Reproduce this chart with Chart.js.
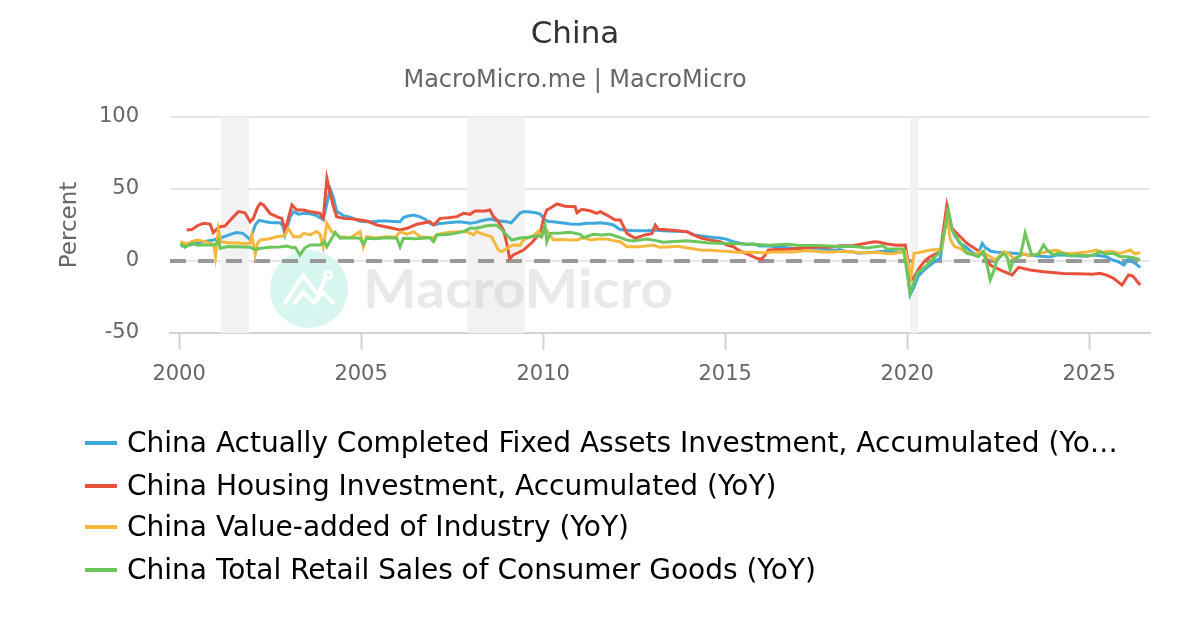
<!DOCTYPE html>
<html>
<head>
<meta charset="utf-8">
<script src="https://cdn.jsdelivr.net/npm/chart.js@4.4.1/dist/chart.umd.min.js"></script>
<style>
  html, body { margin: 0; padding: 0; background: #fff; }
  #wrap { position: relative; width: 1200px; height: 630px; overflow: hidden; font-family: 'DejaVu Sans', sans-serif; }
  #c { position: absolute; left: 0; top: 0; }
  .lg { position: absolute; left: 85px; height: 34px; line-height: 34px; white-space: nowrap; font-size: 28px; color: #000; }
  .lg .sw { position: absolute; left: 0; top: 15px; width: 32px; height: 4px; }
  .lg .tx { position: absolute; left: 42px; top: 0; }
</style>
</head>
<body>
<div id="wrap">
  <canvas id="c" width="1200" height="630"></canvas>
  <div id="legend"></div>
</div>
<script>
// ---------------- DATA ----------------
const seriesNames = [
  "China Actually Completed Fixed Assets Investment, Accumulated (YoY)",
  "China Housing Investment, Accumulated (YoY)",
  "China Value-added of Industry (YoY)",
  "China Total Retail Sales of Consumer Goods (YoY)"
];
const legendTexts = [
  "China Actually Completed Fixed Assets Investment, Accumulated (Yo\u2026",
  "China Housing Investment, Accumulated (YoY)",
  "China Value-added of Industry (YoY)",
  "China Total Retail Sales of Consumer Goods (YoY)"
];
const seriesColors = ["#3fa8dc", "#e8523c", "#f5b83d", "#6cc65c"];

const xTicks = [2000, 2005, 2010, 2015, 2020, 2025];
const yTicks = [-50, 0, 50, 100];

const bandStarts = [2001.15, 2007.92, 2020.08];
const bandEnds = [2001.92, 2009.5, 2020.3];

const faiData = [[2000.04,10.4],[2000.3,11.2],[2000.5,12.5],[2000.67,13.4],[2000.94,14.6],[2001.12,15.8],[2001.3,17.5],[2001.45,18.8],[2001.58,19.7],[2001.75,19.2],[2001.86,16.9],[2001.95,14.8],[2002.1,25.5],[2002.2,28.2],[2002.35,27.4],[2002.5,26.8],[2002.65,26.5],[2002.77,26.6],[2002.85,24.5],[2002.91,18.3],[2003.05,30.5],[2003.14,34.3],[2003.28,32.5],[2003.45,33.2],[2003.6,32.8],[2003.75,31.8],[2003.87,30.1],[2003.96,28.8],[2004.06,40],[2004.15,50],[2004.24,44],[2004.33,34.3],[2004.42,33.1],[2004.51,31.5],[2004.7,30.5],[2004.97,27.6],[2005.15,27.3],[2005.34,27.3],[2005.5,27.8],[2005.7,27.8],[2005.9,27.5],[2006.07,27.3],[2006.16,30.1],[2006.3,31.2],[2006.44,31.9],[2006.6,30.8],[2006.75,29.2],[2006.89,26.2],[2006.99,25],[2007.15,26],[2007.26,26.2],[2007.45,26.8],[2007.72,27.3],[2007.99,26.2],[2008.15,26.8],[2008.27,27.8],[2008.54,29.2],[2008.7,28.3],[2008.81,27.8],[2009.0,27.3],[2009.12,26.5],[2009.25,30],[2009.37,33.5],[2009.5,34.3],[2009.64,34],[2009.8,33.5],[2009.92,32.6],[2010.05,28.5],[2010.15,27.5],[2010.28,27.3],[2010.5,26.5],[2010.74,25.7],[2011.0,25.6],[2011.2,26.2],[2011.4,26.2],[2011.57,26.6],[2011.75,26],[2011.93,25],[2012.1,22],[2012.2,21.5],[2012.4,21.2],[2012.57,21],[2012.85,21],[2013.03,21.5],[2013.3,21],[2013.6,20.6],[2013.95,20.4],[2014.15,18],[2014.35,17.3],[2014.5,16.9],[2014.7,16.3],[2014.86,16],[2015.05,15],[2015.2,13.6],[2015.4,12.3],[2015.6,11.5],[2015.78,11.8],[2015.95,10.5],[2016.15,10.5],[2016.33,10],[2016.5,9.9],[2016.7,9.2],[2016.95,8.5],[2017.15,9.5],[2017.4,8.8],[2017.6,8.8],[2017.8,8],[2017.95,7.3],[2018.15,7.9],[2018.35,6.5],[2018.5,6.5],[2018.65,5.4],[2018.95,5.9],[2019.15,6.3],[2019.4,6.9],[2019.6,6.5],[2019.8,6],[2019.95,6.5],[2020.08,-23.6],[2020.19,-17.9],[2020.3,-10.5],[2020.47,-6.2],[2020.63,-2.8],[2020.8,0.3],[2020.91,1.9],[2021.09,34.3],[2021.2,24],[2021.3,18],[2021.45,12.3],[2021.6,10],[2021.82,5.3],[2021.95,4.9],[2022.06,12.2],[2022.15,9.3],[2022.3,6.8],[2022.47,6.1],[2022.65,5.9],[2022.92,5.3],[2023.05,5.1],[2023.2,4.7],[2023.38,4],[2023.6,3.4],[2023.84,3],[2023.95,3],[2024.1,4.2],[2024.29,4.2],[2024.5,3.6],[2024.7,3.4],[2024.94,3.3],[2025.1,4.1],[2025.3,3.7],[2025.48,2.8],[2025.67,0.5],[2025.8,-0.5],[2025.95,-2.8],[2026.08,1.2],[2026.25,-1.5],[2026.4,-4.4]];

const housingData = [[2000.21,21.5],[2000.35,21.8],[2000.5,24.5],[2000.67,26.2],[2000.85,25.6],[2000.94,19.7],[2001.05,22.5],[2001.13,23.8],[2001.26,24.3],[2001.45,29.6],[2001.63,34.3],[2001.81,33.5],[2001.95,27.3],[2002.04,29.6],[2002.15,37],[2002.23,40],[2002.32,38.9],[2002.5,33],[2002.68,30.8],[2002.82,29.6],[2002.91,21.5],[2003.1,38.9],[2003.23,35.4],[2003.42,35.4],[2003.6,34.3],[2003.78,33.5],[2003.87,33.1],[2003.96,29.6],[2004.06,57.4],[2004.15,47],[2004.24,37.7],[2004.33,30.8],[2004.51,29.6],[2004.79,29.2],[2005.15,27.8],[2005.43,25],[2005.8,23.1],[2006.07,21.5],[2006.26,22.7],[2006.53,25.5],[2006.89,27.3],[2006.99,25],[2007.17,29.6],[2007.4,30],[2007.63,30.8],[2007.81,33.1],[2007.99,32.4],[2008.13,34.7],[2008.41,34.7],[2008.54,35.4],[2008.63,31],[2008.77,27.3],[2008.91,21.5],[2009.0,12.3],[2009.08,1.5],[2009.18,4.2],[2009.46,7.6],[2009.7,13],[2009.83,16.9],[2009.92,19.2],[2010.01,29.6],[2010.1,35.4],[2010.19,36.6],[2010.38,39.6],[2010.6,38],[2010.88,37.7],[2010.93,33.5],[2011.06,35.9],[2011.29,34.9],[2011.47,33.1],[2011.57,34.3],[2011.75,31.9],[2011.98,28.5],[2012.12,28.5],[2012.3,19.2],[2012.53,15.8],[2012.8,18.1],[2012.99,19.2],[2013.08,25],[2013.17,22],[2013.49,21.5],[2013.95,20.4],[2014.13,18.1],[2014.36,15.8],[2014.6,14.5],[2014.86,13.4],[2015.05,11],[2015.23,9.9],[2015.4,7],[2015.6,4.9],[2015.87,1.9],[2016.0,1.2],[2016.1,4.2],[2016.19,7.6],[2016.45,8],[2016.7,8.1],[2017.15,8.8],[2017.61,9.9],[2017.9,9.5],[2018.16,10.6],[2018.5,10.6],[2018.98,12.8],[2019.1,13.4],[2019.25,13],[2019.44,11.8],[2019.7,11],[2019.95,11.1],[2020.1,-13.2],[2020.19,-10.9],[2020.36,-3.9],[2020.5,0.5],[2020.63,3],[2020.91,6.5],[2021.09,38.9],[2021.23,22.7],[2021.41,18.1],[2021.64,12.3],[2021.92,7.6],[2022.05,6],[2022.17,1.9],[2022.28,-2.8],[2022.55,-6.2],[2022.88,-9.7],[2023.06,-4.4],[2023.38,-6.2],[2023.75,-7.4],[2024.29,-8.6],[2024.94,-9],[2025.1,-9.2],[2025.3,-8.6],[2025.5,-10],[2025.67,-12],[2025.9,-16.7],[2026.08,-9.7],[2026.2,-10.5],[2026.4,-16.7]];

const industryData = [[2000.04,13.4],[2000.2,11.8],[2000.35,13.5],[2000.49,14.6],[2000.7,13.5],[2000.85,12.3],[2000.95,11.5],[2001.0,3],[2001.08,22],[2001.15,13.4],[2001.4,12.5],[2001.58,12.7],[2001.8,12],[2001.95,12.3],[2002.0,18],[2002.09,4.2],[2002.15,12],[2002.23,14.6],[2002.5,15.5],[2002.68,16.9],[2002.9,17.5],[2003.0,22.7],[2003.14,16.9],[2003.32,16.9],[2003.42,19.2],[2003.6,18.1],[2003.78,20.4],[2003.87,18.5],[2003.96,9.9],[2004.06,26.2],[2004.19,20.4],[2004.42,16.9],[2004.7,16.2],[2004.97,20.4],[2005.06,9.9],[2005.15,16.9],[2005.4,16],[2005.7,16.9],[2005.95,16.5],[2006.07,20.4],[2006.26,18.5],[2006.44,20.4],[2006.62,16.9],[2006.99,15.8],[2007.08,18.5],[2007.44,19.9],[2007.9,20.4],[2008.09,18.1],[2008.17,20.4],[2008.36,18.5],[2008.58,16.9],[2008.77,7.6],[2008.87,6.5],[2009.0,8.8],[2009.18,11.1],[2009.37,11],[2009.46,14.6],[2009.73,17.5],[2009.87,20.8],[2009.96,16.9],[2010.05,22.7],[2010.19,18.1],[2010.28,14.6],[2010.5,15],[2010.74,14.6],[2010.95,14.8],[2011.11,16.2],[2011.29,14.6],[2011.5,15.3],[2011.75,15.3],[2011.95,14],[2012.12,13.4],[2012.3,9.9],[2012.66,9.9],[2012.85,10.5],[2013.03,11.1],[2013.2,9.5],[2013.49,9.9],[2013.7,10.2],[2013.95,9.2],[2014.31,7.6],[2014.6,7.5],[2014.86,6.9],[2015.05,6.8],[2015.32,6],[2015.6,6.1],[2015.8,6.1],[2016.1,5.6],[2016.3,6.2],[2016.6,6.3],[2016.9,6.2],[2017.2,7.2],[2017.5,6.8],[2017.7,6.2],[2017.95,6.3],[2018.2,6.8],[2018.4,6.5],[2018.7,5.8],[2018.9,5.7],[2019.2,6],[2019.4,5.2],[2019.6,5],[2019.8,6],[2019.95,6.9],[2020.1,-11],[2020.19,5.3],[2020.33,5.8],[2020.63,7.6],[2020.95,8.1],[2021.09,30.8],[2021.19,14.6],[2021.3,10],[2021.45,8.8],[2021.6,6.4],[2021.73,5.3],[2021.85,4.5],[2022.0,6.5],[2022.15,5],[2022.28,3.0],[2022.42,0.7],[2022.55,3.9],[2022.65,6.5],[2022.8,5],[2022.92,1.9],[2023.05,2.8],[2023.19,5.3],[2023.35,3.5],[2023.5,4.4],[2023.65,5.3],[2023.85,6.6],[2024.1,7.6],[2024.3,5.6],[2024.5,5.1],[2024.73,5.8],[2024.95,6.2],[2025.19,7.6],[2025.35,6.1],[2025.5,6.8],[2025.67,6.5],[2025.85,5.2],[2026.0,6.5],[2026.13,7.6],[2026.25,5],[2026.4,5.8]];

const retailData = [[2000.04,12.3],[2000.16,9.5],[2000.35,12.3],[2000.5,11],[2000.67,11.1],[2000.99,11.1],[2001.08,14.6],[2001.13,8.8],[2001.35,10],[2001.58,9.9],[2001.95,9.5],[2002.09,8.1],[2002.3,9],[2002.5,9.5],[2002.75,9.8],[2002.96,10.4],[2003.1,9.3],[2003.19,9.5],[2003.32,4.2],[2003.45,9],[2003.6,11.1],[2003.87,11.1],[2004.0,13.4],[2004.06,9.9],[2004.29,19.9],[2004.42,15.8],[2004.7,16.2],[2004.97,15.8],[2005.06,11.6],[2005.15,15.8],[2005.4,15.5],[2005.7,16.2],[2005.98,15.8],[2006.07,9.9],[2006.16,15.8],[2006.5,15.5],[2006.89,16.2],[2006.99,13.4],[2007.08,18.1],[2007.44,18.5],[2007.81,20.4],[2007.99,22.7],[2008.17,22.7],[2008.45,24.5],[2008.72,25],[2008.82,22.7],[2009.0,18.1],[2009.14,14.6],[2009.37,16],[2009.6,16.5],[2009.83,17.5],[2009.96,17],[2010.05,25],[2010.1,13.4],[2010.19,19.2],[2010.5,19.5],[2010.74,19.9],[2011.02,18.5],[2011.11,16.2],[2011.38,18.5],[2011.6,18],[2011.84,18.5],[2012.12,16.2],[2012.3,14.5],[2012.48,13.9],[2012.85,15.3],[2013.03,14.5],[2013.3,13],[2013.6,13.5],[2013.95,14],[2014.5,12.6],[2014.86,12.3],[2015.32,12],[2015.78,11.6],[2016.2,11],[2016.7,11.6],[2017.0,11],[2017.6,10.8],[2018.1,10],[2018.5,10.2],[2018.9,9],[2019.33,10.6],[2019.45,8.3],[2019.9,8.3],[2020.08,-22.4],[2020.27,-8.6],[2020.55,-2.8],[2020.75,2.5],[2020.91,6.5],[2021.13,35],[2021.23,21.5],[2021.41,14.6],[2021.64,5.3],[2021.8,4.5],[2021.95,3],[2022.1,6.7],[2022.2,-3.5],[2022.28,-13.2],[2022.38,-6.7],[2022.47,0.7],[2022.65,5.3],[2022.75,2.5],[2022.83,-6.2],[2022.92,0.7],[2023.1,3.5],[2023.17,10.6],[2023.24,19.5],[2023.32,12.7],[2023.42,4.2],[2023.6,4.6],[2023.75,11.1],[2023.85,7.4],[2024.02,4.2],[2024.15,5.5],[2024.29,5.3],[2024.5,3.7],[2024.73,4.2],[2024.9,3.7],[2025.1,4],[2025.3,6.5],[2025.45,4.8],[2025.67,5.3],[2025.85,3],[2026.03,3],[2026.2,2.5],[2026.4,0.7]];

const zeroLineValue = 0;

// ---------------- CHART ----------------
Chart.defaults.font.family = "'DejaVu Sans', sans-serif";

const allSeries = [faiData, housingData, industryData, retailData];
const drawOrder = [3, 2, 1, 0];

const datasets = allSeries.map((arr, i) => ({
  label: seriesNames[i],
  data: arr.map(p => ({ x: p[0], y: p[1] })),
  borderColor: seriesColors[i],
  backgroundColor: seriesColors[i],
  borderWidth: 3,
  pointRadius: 0,
  tension: 0,
  fill: false,
  order: drawOrder[i]
}));

const decorPlugin = {
  id: 'decor',
  beforeDatasetsDraw(chart) {
    const { ctx, chartArea, scales } = chart;
    const xs = scales.x, ys = scales.y;
    ctx.save();
    // recession bands
    ctx.fillStyle = '#f2f2f2';
    for (let i = 0; i < bandStarts.length; i++) {
      const a = xs.getPixelForValue(bandStarts[i]);
      const b = xs.getPixelForValue(bandEnds[i]);
      ctx.fillRect(a, chartArea.top, b - a, chartArea.bottom - chartArea.top);
    }
    // watermark
    const cx = chartArea.left + 139, cy = 289;
    ctx.fillStyle = '#d6f6ef';
    ctx.beginPath();
    ctx.arc(cx, cy, 39, 0, Math.PI * 2);
    ctx.fill();
    ctx.strokeStyle = '#ffffff';
    ctx.lineWidth = 4;
    ctx.lineCap = 'round';
    ctx.lineJoin = 'round';
    ctx.beginPath();
    ctx.moveTo(cx - 24, cy + 14);
    ctx.lineTo(cx - 6, cy - 14);
    ctx.lineTo(cx + 9, cy + 6);
    ctx.lineTo(cx + 17, cy - 12);
    ctx.stroke();
    ctx.beginPath();
    ctx.moveTo(cx - 14, cy + 14);
    ctx.lineTo(cx - 6, cy + 3);
    ctx.lineTo(cx + 5, cy + 14);
    ctx.lineTo(cx + 14, cy + 3);
    ctx.lineTo(cx + 24, cy + 14);
    ctx.stroke();
    ctx.lineWidth = 3;
    ctx.beginPath();
    ctx.arc(cx + 19, cy - 14, 3.5, 0, Math.PI * 2);
    ctx.stroke();
    // watermark text
    ctx.font = "bold 54px Lato, 'DejaVu Sans', sans-serif";
    const w = ctx.measureText('MacroMicro').width;
    ctx.fillStyle = 'rgba(200,202,206,0.42)';
    ctx.textBaseline = 'alphabetic';
    ctx.textAlign = 'left';
    ctx.translate(chartArea.left + 193, 308);
    ctx.scale(310 / w, 1);
    ctx.fillText('MacroMicro', 0, 0);
    ctx.restore();
    // zero dashed line
    ctx.save();
    const y0 = ys.getPixelForValue(zeroLineValue);
    ctx.strokeStyle = '#999999';
    ctx.lineWidth = 4;
    ctx.setLineDash([16, 12]);
    ctx.beginPath();
    ctx.moveTo(chartArea.left, y0);
    ctx.lineTo(chartArea.right, y0);
    ctx.stroke();
    ctx.restore();
  }
};

new Chart(document.getElementById('c'), {
  type: 'line',
  data: { datasets },
  options: {
    responsive: false,
    animation: false,
    devicePixelRatio: 1,
    parsing: false,
    normalized: true,
    layout: { padding: { left: 0, right: 50, top: 0, bottom: 237 } },
    plugins: {
      legend: { display: false },
      tooltip: { enabled: false },
      title: {
        display: true, text: 'China', color: '#333333',
        font: { size: 31, weight: 'normal' },
        padding: { top: 16, bottom: 13 }
      },
      subtitle: {
        display: true, text: 'MacroMicro.me | MacroMicro', color: '#666666',
        font: { size: 24, weight: 'normal' },
        padding: { top: 0, bottom: 22 }
      }
    },
    scales: {
      x: {
        type: 'linear', min: 1999.75, max: 2026.67,
        afterBuildTicks: s => { s.ticks = xTicks.map(v => ({ value: v })); },
        afterFit: s => { s.height = 60; },
        ticks: { color: '#666666', font: { size: 21 }, padding: 12, maxRotation: 0, autoSkip: false, callback: v => String(v) },
        grid: { drawOnChartArea: false, drawTicks: true, tickLength: 17, tickColor: '#d3d3d3', tickWidth: 2 },
        border: { display: true, color: '#d3d3d3', width: 2 }
      },
      y: {
        type: 'linear', min: -50, max: 100,
        afterBuildTicks: s => { s.ticks = yTicks.map(v => ({ value: v })); },
        afterFit: s => { s.width = 170; },
        ticks: { color: '#666666', font: { size: 21 }, padding: 31 },
        grid: { color: '#e6e6e6', lineWidth: 2, drawTicks: false },
        border: { display: false },
        title: { display: true, text: 'Percent', color: '#666666', font: { size: 23 }, padding: { top: 56, bottom: 0 } }
      }
    }
  },
  plugins: [decorPlugin]
});

// ---------------- LEGEND (HTML) ----------------
const legendRowCenters = [443, 486, 527, 570];
const lg = document.getElementById('legend');
legendTexts.forEach((t, i) => {
  const row = document.createElement('div');
  row.className = 'lg';
  row.style.top = (legendRowCenters[i] - 17) + 'px';
  const sw = document.createElement('span');
  sw.className = 'sw';
  sw.style.background = seriesColors[i];
  const tx = document.createElement('span');
  tx.className = 'tx';
  tx.textContent = t;
  row.appendChild(sw);
  row.appendChild(tx);
  lg.appendChild(row);
});
</script>
</body>
</html>
